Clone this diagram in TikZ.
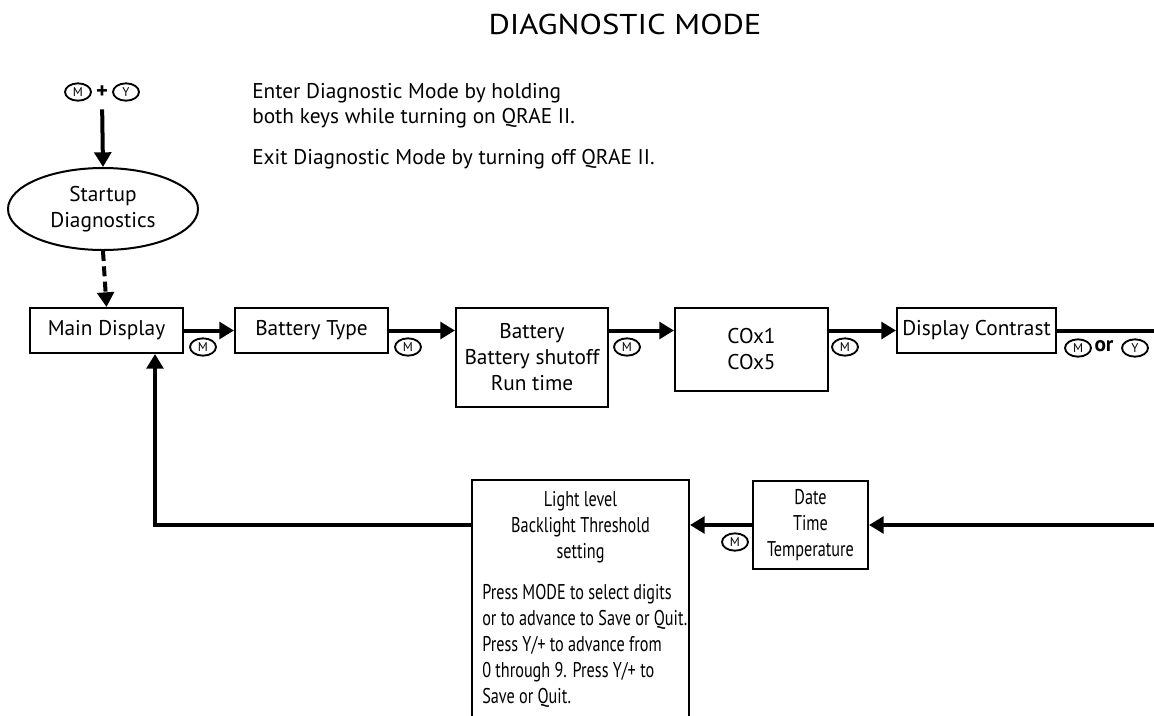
\documentclass[tikz,border=0pt]{standalone}
\usepackage{fontspec}
\setmainfont{PT Sans}
\newfontfamily\condfont{PT Sans}[FakeStretch=0.76]
\newfontfamily\titlefont{PT Sans}[FakeStretch=1.14]
\usetikzlibrary{arrows.meta,shapes.geometric}
\tikzset{
  box/.style={draw, line width=1.5pt, inner sep=2pt, align=center, font=\fontsize{16}{19.5}\selectfont},
  arr/.style={line width=3pt, -{Triangle[length=11pt,width=12.5pt]}},
  plainline/.style={line width=3pt},
  keyc/.style={draw, ellipse, line width=1.4pt, minimum width=19.5pt, minimum height=13pt, inner sep=0pt, font=\fontsize{9.5}{9.5}\selectfont},
  txt/.style={font=\fontsize{16}{19}\selectfont, align=left, inner sep=0pt},
  lbl/.style={font=\fontsize{16}{19}\selectfont, inner sep=0pt},
}
\begin{document}
\begin{tikzpicture}[x=0.75pt,y=-0.75pt]
\useasboundingbox (0,0) rectangle (1154,715);
\fill[white] (0,0) rectangle (1154,715);
\clip (0,0) rectangle (1154,715);

% title
\node[font=\titlefont\fontsize{21.5}{25}\selectfont, anchor=base, inner sep=0pt] (title) at (625,34) {DIAGNOSTIC MODE};

% key combination
\node[keyc] (km0) at (78,92) {M};
\node[font=\bfseries\fontsize{17}{17}\selectfont, inner sep=0pt] (plus) at (102,92) {+};
\node[keyc] (ky0) at (126,92) {Y};

% instructions
\node[txt, anchor=west] (enter) at (252,106) {Enter Diagnostic Mode by holding\\both keys while turning on QRAE II.};
\node[txt, anchor=west] (exit) at (252,159) {Exit Diagnostic Mode by turning off QRAE II.};

% startup ellipse
\node[draw, ellipse, line width=1.5pt, minimum width=142.5pt, minimum height=61.5pt, align=center, font=\fontsize{16}{20}\selectfont, inner sep=0pt] (diag) at (103,209) {Startup\\Diagnostics};

% boxes
\node[box, minimum width=114.75pt, minimum height=33.75pt] (main) at (106.5,330.5) {Main Display};
\node[box, minimum width=114.75pt, minimum height=33.75pt] (btype) at (311.5,330.5) {Battery Type};
\node[box, minimum width=114pt, minimum height=74.25pt] (bat) at (532,357.5) {Battery\\Battery shutoff\\Run time};
\node[box, minimum width=114.75pt, minimum height=62.25pt] (cox) at (751.5,349.5) {COx1\\COx5};
\node[box, minimum width=119.25pt, minimum height=33.75pt] (contrast) at (976.5,330.5) {Display Contrast};
\node[box, minimum width=86.25pt, minimum height=66pt, font=\condfont\fontsize{16}{19.5}\selectfont] (date) at (810.5,525) {Date\\Time\\Temperature};
\node[draw, line width=1.5pt, minimum width=162.75pt, minimum height=210pt, inner sep=0pt] (light) at (580.5,620) {};
\node[box, draw=none, anchor=center, font=\condfont\fontsize{16}{19.5}\selectfont] (lighttitle) at (580.5,527) {Light level\\Backlight Threshold\\setting};
\node[txt, anchor=west, font=\condfont\fontsize{16}{19.5}\selectfont] (lighttext) at (482,645.5) {Press MODE to select digits\\or to advance to Save or Quit.\\Press Y/+ to advance from\\0 through 9. Press Y/+ to\\Save or Quit.};

% key labels
\node[keyc] (k1) at (203,347) {M};
\node[keyc] (k2) at (408,347) {M};
\node[keyc] (k3) at (627,347) {M};
\node[keyc] (k4) at (845,347) {M};
\node[keyc] (k5) at (1078,348) {M};
\node[lbl, font=\bfseries\fontsize{16}{16}\selectfont] (or) at (1104,346) {or};
\node[keyc] (k6) at (1135,348) {Y};
\node[keyc] (k7) at (735,542) {M};

% off-picture ends
\coordinate (rout) at (1160,330.5);
\coordinate (rin) at (1160,525);
\coordinate (retx) at (155,0);

% connectors
\draw[arr, shorten <=8pt] (plus.south) -- (diag.north);
\draw[arr, dash pattern=on 7.5pt off 4pt] (diag.south) -- (main.north);
\draw[arr] (main.east) -- (btype.west);
\draw[arr] (btype.east) -- (bat.west |- btype.east);
\draw[arr] (bat.east |- main.east) -- (cox.west |- main.east);
\draw[arr] (cox.east |- main.east) -- (contrast.west);
\draw[plainline] (contrast.east) -- (rout);
\draw[arr] (rin) -- (date.east);
\draw[arr] (date.west) -- (light.east |- date.west);
\draw[arr] (light.west |- date.west) -| (retx |- main.south);
\end{tikzpicture}
\end{document}
